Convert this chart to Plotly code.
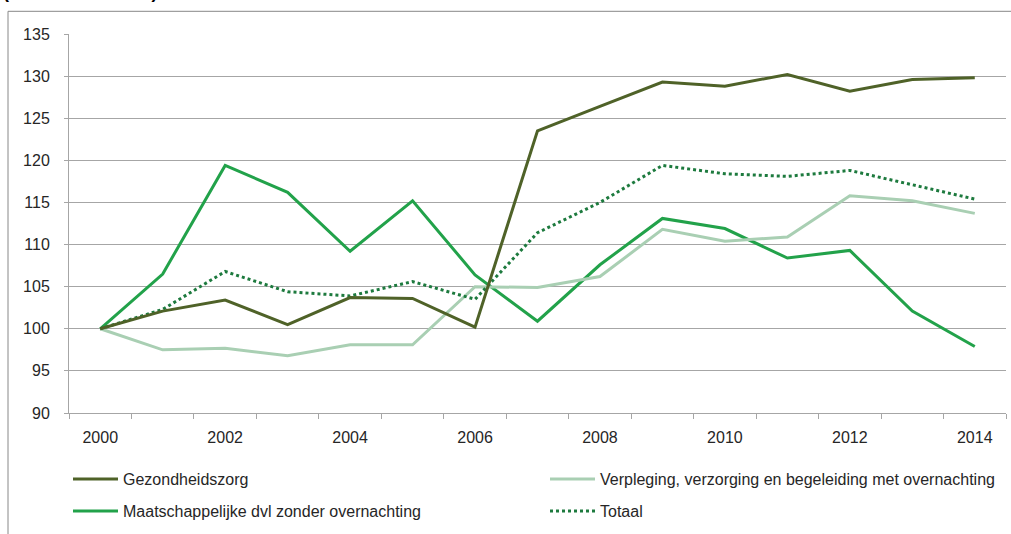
import plotly.graph_objects as go

years = list(range(2000, 2015))
tick_years = [2000, 2002, 2004, 2006, 2008, 2010, 2012, 2014]
y_ticks = [90, 95, 100, 105, 110, 115, 120, 125, 130, 135]

gezondheidszorg = [100, 102.1, 103.4, 100.5, 103.7, 103.6, 100.2, 123.5, 126.4, 129.3, 128.8, 130.2, 128.2, 129.6, 129.8]
verpleging = [100, 97.5, 97.7, 96.8, 98.1, 98.1, 105.0, 104.9, 106.2, 111.8, 110.4, 110.9, 115.8, 115.2, 113.7]
maatschappelijke = [100, 106.5, 119.4, 116.2, 109.2, 115.2, 106.4, 100.9, 107.6, 113.1, 111.9, 108.4, 109.3, 102.1, 97.9]
totaal = [100, 102.3, 106.8, 104.4, 103.9, 105.6, 103.5, 111.4, 115.0, 119.4, 118.4, 118.1, 118.8, 117.1, 115.4]

names = ["Gezondheidszorg",
         "Verpleging, verzorging en begeleiding met overnachting",
         "Maatschappelijke dvl zonder overnachting",
         "Totaal"]

FONT = "Liberation Sans"
GRID = "#a6a6a6"
TXT = "#262626"
FS = 16
W, H = 1011, 534

fig = go.Figure()
fig.add_trace(go.Scatter(x=years, y=maatschappelijke, name=names[2], mode="lines",
                         line=dict(color="#22a24a", width=3), legend="legend3"))
fig.add_trace(go.Scatter(x=years, y=verpleging, name=names[1], mode="lines",
                         line=dict(color="#a9cfb3", width=3), legend="legend2"))
fig.add_trace(go.Scatter(x=years, y=totaal, name=names[3], mode="lines",
                         line=dict(color="#1d7a3e", width=3, dash="dot"), legend="legend4"))
fig.add_trace(go.Scatter(x=years, y=gezondheidszorg, name=names[0], mode="lines",
                         line=dict(color="#4f6228", width=3), legend="legend"))

legend_common = dict(orientation="h", xanchor="left", yanchor="middle",
                     xref="container", yref="container",
                     font=dict(family=FONT, size=FS, color=TXT),
                     bgcolor="rgba(0,0,0,0)", itemwidth=45)

col1_x, col2_x = 68 / W, 545 / W
row1_y, row2_y = 1 - 479 / H, 1 - 511 / H

fig.update_layout(
    width=W, height=H,
    margin=dict(l=69, r=5, t=34, b=121, autoexpand=False),
    paper_bgcolor="white", plot_bgcolor="white",
    font=dict(family=FONT, size=FS, color=TXT),
    showlegend=True,
    legend=dict(x=col1_x, y=row1_y, **legend_common),
    legend2=dict(x=col2_x, y=row1_y, **legend_common),
    legend3=dict(x=col1_x, y=row2_y, **legend_common),
    legend4=dict(x=col2_x, y=row2_y, **legend_common),
    xaxis=dict(range=[1999.5, 2014.5], tickvals=tick_years, ticktext=[str(t) for t in tick_years],
               ticks="", showgrid=False, showline=True, linecolor=GRID, linewidth=1,
               ticklabelstandoff=10, zeroline=False,
               minor=dict(tick0=1999.5, dtick=1, ticks="outside", ticklen=5,
                          tickcolor=GRID, showgrid=False),
               tickfont=dict(family=FONT, size=FS, color=TXT)),
    yaxis=dict(range=[90, 135], tickvals=y_ticks, ticks="outside", ticklen=4, tickcolor=GRID,
               showgrid=True, gridcolor=GRID, gridwidth=1, showline=True, linecolor=GRID,
               linewidth=1, zeroline=False, ticklabelstandoff=11,
               tickfont=dict(family=FONT, size=FS, color=TXT)),
    shapes=[dict(type="rect", xref="paper", yref="paper",
                 x0=-0.0651, x1=1.2, y0=-1.0, y1=1.0599,
                 line=dict(color="#888888", width=1), fillcolor="rgba(0,0,0,0)", layer="below")],
    annotations=[dict(text="<b>(index 2000 = 100)</b>", xref="paper", yref="paper",
                      x=-0.0725, y=1.0795, xanchor="left", yanchor="bottom", showarrow=False,
                      font=dict(family=FONT, size=18, color="#000000"))],
)

fig.write_html("out.html", config={"displayModeBar": False},
               post_script="document.body.style.margin='0';document.body.style.overflow='hidden';")
